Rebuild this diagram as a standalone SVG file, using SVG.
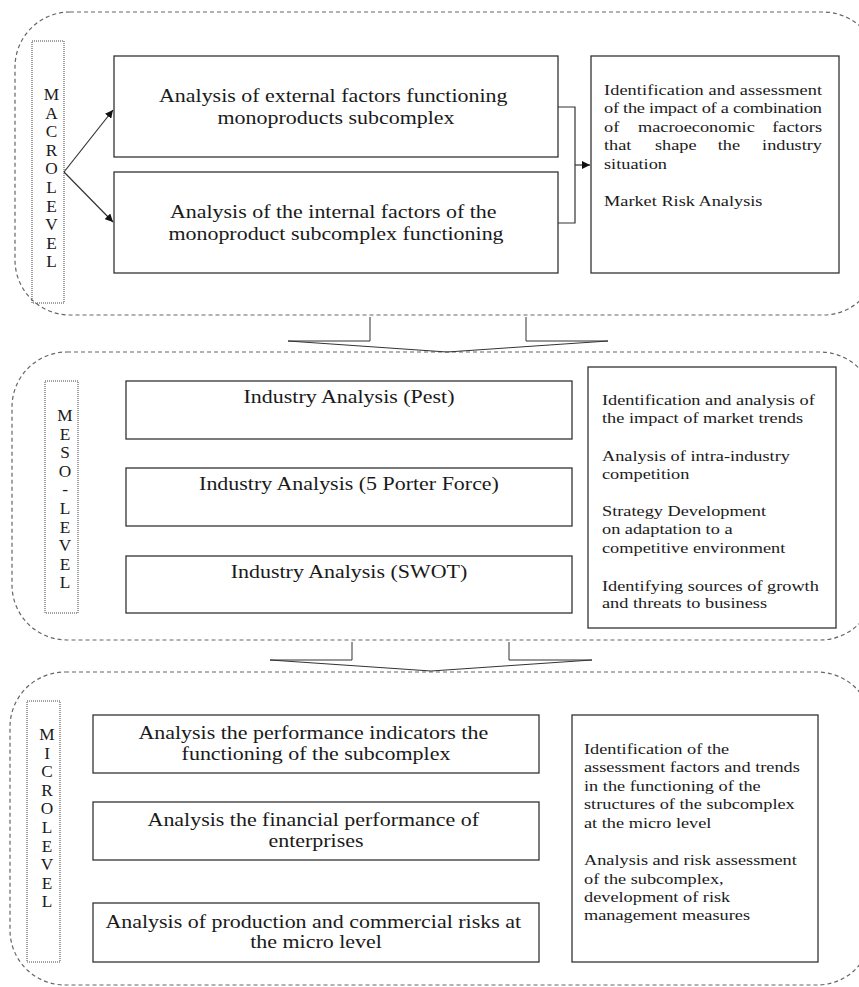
<svg xmlns="http://www.w3.org/2000/svg" width="859" height="987" viewBox="0 0 859 987">
<style>
  .bg{fill:#ffffff}
  .zone{fill:none;stroke:#666;stroke-width:1.2;stroke-dasharray:4 3}
  .lblbox{fill:none;stroke:#444;stroke-width:1;stroke-dasharray:1 1}
  .box{fill:#ffffff;stroke:#333;stroke-width:1.3}
  .t{font-family:"Liberation Serif","Times New Roman",serif;fill:#1a1a1a}
  .bt{font-size:18px}
  .st{font-size:15px}
  .lt{font-size:16px}
  .conn{fill:none;stroke:#333;stroke-width:1.2}
  .chev{fill:none;stroke:#333;stroke-width:1}
</style>
<defs>
  <marker id="ah" viewBox="0 0 10 10" refX="10" refY="5" markerWidth="8" markerHeight="8" markerUnits="userSpaceOnUse" orient="auto">
    <path d="M0,0 L10,5 L0,10 z" fill="#111"/>
  </marker>
</defs>
<rect class="bg" x="0" y="0" width="859" height="987"/>

<!-- zones -->
<g id="zone-macro"><rect class="zone" x="15" y="12" width="863" height="303" rx="55" ry="55"/></g>
<g id="zone-meso"><rect class="zone" x="12" y="352" width="863" height="288" rx="55" ry="55"/></g>
<g id="zone-micro"><rect class="zone" x="10" y="672" width="862" height="313" rx="55" ry="55"/></g>

<!-- level labels -->
<g id="label-macro">
  <rect class="lblbox" x="32" y="41" width="32" height="262"/>
  <text class="t lt" text-anchor="middle" transform="translate(51.5,0) scale(1.08,1)">
    <tspan x="0" y="100">M</tspan><tspan x="0" y="118.6">A</tspan><tspan x="0" y="137.2">C</tspan><tspan x="0" y="155.8">R</tspan><tspan x="0" y="174.4">O</tspan><tspan x="0" y="193">L</tspan><tspan x="0" y="211.6">E</tspan><tspan x="0" y="230.2">V</tspan><tspan x="0" y="248.8">E</tspan><tspan x="0" y="267.4">L</tspan>
  </text>
</g>
<g id="label-meso">
  <rect class="lblbox" x="45" y="381" width="33" height="232"/>
  <text class="t lt" text-anchor="middle" transform="translate(65,0) scale(1.08,1)">
    <tspan x="0" y="421">M</tspan><tspan x="0" y="439.6">E</tspan><tspan x="0" y="458.2">S</tspan><tspan x="0" y="476.8">O</tspan><tspan x="0" y="495.4">-</tspan><tspan x="0" y="514">L</tspan><tspan x="0" y="532.6">E</tspan><tspan x="0" y="551.2">V</tspan><tspan x="0" y="569.8">E</tspan><tspan x="0" y="588.4">L</tspan>
  </text>
</g>
<g id="label-micro">
  <rect class="lblbox" x="27" y="701" width="33" height="261"/>
  <text class="t lt" text-anchor="middle" transform="translate(47,0) scale(1.08,1)">
    <tspan x="0" y="740">M</tspan><tspan x="0" y="758.6">I</tspan><tspan x="0" y="777.2">C</tspan><tspan x="0" y="795.8">R</tspan><tspan x="0" y="814.4">O</tspan><tspan x="0" y="833">L</tspan><tspan x="0" y="851.6">E</tspan><tspan x="0" y="870.2">V</tspan><tspan x="0" y="888.8">E</tspan><tspan x="0" y="907.4">L</tspan>
  </text>
</g>

<!-- macro nodes -->
<g id="macro-external">
  <rect class="box" x="114" y="56" width="444" height="101"/>
  <text class="t bt" text-anchor="middle" transform="translate(336,0) scale(1.22,1)">
    <tspan x="0" y="102">Analysis of external factors functioning</tspan>
    <tspan x="0" y="124">monoproducts subcomplex</tspan>
  </text>
</g>
<g id="macro-internal">
  <rect class="box" x="114" y="172" width="444" height="101"/>
  <text class="t bt" text-anchor="middle" transform="translate(336,0) scale(1.22,1)">
    <tspan x="0" y="218">Analysis of the internal factors of the</tspan>
    <tspan x="0" y="240">monoproduct subcomplex functioning</tspan>
  </text>
</g>
<g id="macro-result">
  <rect class="box" x="591" y="56" width="248" height="217"/>
  <g class="t st" transform="translate(604,0) scale(1.22,1)">
    <text x="0" y="95" textLength="178.7" lengthAdjust="spacing">Identification and assessment</text>
    <text x="0" y="113.5" textLength="178.7" lengthAdjust="spacing">of the impact of a combination</text>
    <text x="0" y="132">of</text><text x="27.9" y="132">macroeconomic</text><text x="178.7" y="132" text-anchor="end">factors</text>
    <text x="0" y="150.5">that</text><text x="41.8" y="150.5">shape</text><text x="93.2" y="150.5">the</text><text x="178.7" y="150.5" text-anchor="end">industry</text>
    <text x="0" y="169">situation</text>
    <text x="0" y="206">Market Risk Analysis</text>
  </g>
</g>

<!-- meso nodes -->
<g id="meso-pest">
  <rect class="box" x="126" y="381" width="446" height="58"/>
  <text class="t bt" text-anchor="middle" transform="translate(349,0) scale(1.22,1)"><tspan x="0" y="403">Industry Analysis (Pest)</tspan></text>
</g>
<g id="meso-porter">
  <rect class="box" x="126" y="468" width="446" height="58"/>
  <text class="t bt" text-anchor="middle" transform="translate(349,0) scale(1.22,1)"><tspan x="0" y="490">Industry Analysis (5 Porter Force)</tspan></text>
</g>
<g id="meso-swot">
  <rect class="box" x="126" y="556" width="446" height="57"/>
  <text class="t bt" text-anchor="middle" transform="translate(349,0) scale(1.22,1)"><tspan x="0" y="578">Industry Analysis (SWOT)</tspan></text>
</g>
<g id="meso-result">
  <rect class="box" x="588" y="367" width="248" height="261"/>
  <text class="t st" transform="translate(602,0) scale(1.22,1)">
    <tspan x="0" y="405">Identification and analysis of</tspan>
    <tspan x="0" y="423">the impact of market trends</tspan>
    <tspan x="0" y="461">Analysis of intra-industry</tspan>
    <tspan x="0" y="479">competition</tspan>
    <tspan x="0" y="516">Strategy Development</tspan>
    <tspan x="0" y="534">on adaptation to a</tspan>
    <tspan x="0" y="553">competitive environment</tspan>
    <tspan x="0" y="591">Identifying sources of growth</tspan>
    <tspan x="0" y="608">and threats to business</tspan>
  </text>
</g>

<!-- micro nodes -->
<g id="micro-performance">
  <rect class="box" x="93" y="715" width="446" height="58"/>
  <text class="t bt" text-anchor="middle" transform="translate(316,0) scale(1.22,1)">
    <tspan x="0" y="739">Analysis the performance indicators the</tspan>
    <tspan x="0" y="760">functioning of the subcomplex</tspan>
  </text>
</g>
<g id="micro-financial">
  <rect class="box" x="93" y="802" width="446" height="58"/>
  <text class="t bt" text-anchor="middle" transform="translate(316,0) scale(1.22,1)">
    <tspan x="0" y="826">Analysis the financial performance of</tspan>
    <tspan x="0" y="847">enterprises</tspan>
  </text>
</g>
<g id="micro-risks">
  <rect class="box" x="93" y="903" width="446" height="59"/>
  <text class="t bt" text-anchor="middle" transform="translate(316,0) scale(1.22,1)">
    <tspan x="0" y="928">Analysis of production and commercial risks at</tspan>
    <tspan x="0" y="948">the micro level</tspan>
  </text>
</g>
<g id="micro-result">
  <rect class="box" x="572" y="715" width="246" height="247"/>
  <text class="t st" transform="translate(584,0) scale(1.22,1)">
    <tspan x="0" y="754">Identification of the</tspan>
    <tspan x="0" y="772">assessment factors and trends</tspan>
    <tspan x="0" y="791">in the functioning of the</tspan>
    <tspan x="0" y="809">structures of the subcomplex</tspan>
    <tspan x="0" y="828">at the micro level</tspan>
    <tspan x="0" y="865">Analysis and risk assessment</tspan>
    <tspan x="0" y="884">of the subcomplex,</tspan>
    <tspan x="0" y="902">development of risk</tspan>
    <tspan x="0" y="920">management measures</tspan>
  </text>
</g>

<!-- connectors -->
<g id="connectors">
  <line class="conn" x1="64" y1="172" x2="113" y2="110" marker-end="url(#ah)"/>
  <line class="conn" x1="64" y1="172" x2="113" y2="222" marker-end="url(#ah)"/>
  <polyline class="conn" points="558,107 575,107 575,223 558,223"/>
  <line class="conn" x1="575" y1="165" x2="590" y2="165" marker-end="url(#ah)"/>
  <polyline class="chev" points="370,317 370,341 288,341 447,352 608,341 526,341 526,317"/>
  <polyline class="chev" points="352,642 352,660 270,660 431,671 592,660 509,660 509,642"/>
</g>
</svg>
